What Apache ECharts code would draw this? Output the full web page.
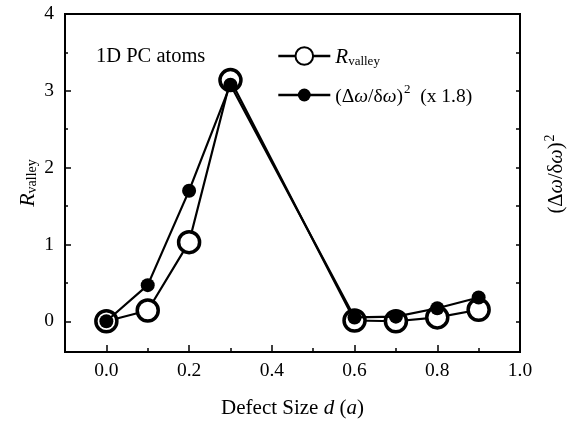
<!DOCTYPE html>
<html>
<head>
<meta charset="utf-8">
<script src="https://cdn.jsdelivr.net/npm/echarts@6/dist/echarts.min.js"></script>
<style>html,body{margin:0;padding:0;background:#fff;}#c{width:580px;height:422px;}</style>
</head>
<body>
<div id="c"></div>
<script>
var defectSize = [0, 0.1, 0.2, 0.3, 0.6, 0.7, 0.8, 0.9];
var rValley = [0, 0.14, 1.03, 3.14, 0.01, 0.0, 0.05, 0.15];
var dwRatioSq = [0, 0.47, 1.70, 3.08, 0.05, 0.06, 0.17, 0.31];
var xMajorTicks = [0, 0.2, 0.4, 0.6, 0.8, 1.0];
var xMinorTicks = [-0.1, 0.1, 0.3, 0.5, 0.7, 0.9];
var yMajorTicks = [0, 1, 2, 3, 4];
var yMinorTicks = [0.5, 1.5, 2.5, 3.5];
var yRightTicks = [0, 0.5, 1, 1.5, 2, 2.5, 3, 3.5];

var FONT = "'Liberation Serif', 'Times New Roman', serif";
function pairs(xs, ys){ return xs.map(function(x,i){ return [x, ys[i]]; }); }

var chart = echarts.init(document.getElementById('c'));
var axisLine = {show: true, onZero: false, lineStyle: {color: '#000', width: 2}};
var noLine = {show: false, onZero: false};
var baseX = {type: 'value', min: -0.1, max: 1.0, splitLine: {show: false}, position: 'bottom', nameMoveOverlap: false};
var baseY = {type: 'value', min: -0.4, max: 4, splitLine: {show: false}, nameMoveOverlap: false};

chart.setOption({
  animation: false,
  backgroundColor: '#fff',
  grid: {left: 65, right: 60, top: 14, bottom: 70, outerBoundsMode: 'none', containLabel: false,
         show: true, borderColor: '#000', borderWidth: 2, backgroundColor: 'transparent'},
  title: {text: '1D PC atoms', left: 91, top: 41, textStyle: {fontFamily: FONT, fontSize: 20.5, fontWeight: 'normal', color: '#000'}},
  xAxis: [
    Object.assign({}, baseX, {
      axisLine: axisLine,
      axisTick: {show: true, inside: true, length: 7, lineStyle: {color: '#000', width: 1.5}, customValues: xMajorTicks},
      axisLabel: {show: true, customValues: xMajorTicks, margin: 9, fontFamily: FONT, fontSize: 19.5, color: '#000',
        formatter: function(v){ return v.toFixed(1); }},
      name: '{n|Defect Size }{i|d}{n| (}{i|a}{n|)}', nameLocation: 'middle', nameGap: 46,
      nameTextStyle: {fontFamily: FONT, fontSize: 21, color: '#000',
        rich: {n: {fontFamily: FONT, fontSize: 21, color: '#000'}, i: {fontFamily: FONT, fontSize: 21, fontStyle: 'italic', color: '#000'}}}
    }),
    Object.assign({}, baseX, {
      axisLine: noLine,
      axisTick: {show: true, inside: true, length: 4, lineStyle: {color: '#000', width: 1.5}, customValues: xMinorTicks},
      axisLabel: {show: false}
    })
  ],
  yAxis: [
    Object.assign({}, baseY, {
      position: 'left',
      axisLine: axisLine,
      axisTick: {show: true, inside: true, length: 6, lineStyle: {color: '#000', width: 1.5}, customValues: yMajorTicks},
      axisLabel: {show: true, customValues: yMajorTicks, margin: 11, fontFamily: FONT, fontSize: 19.5, color: '#000'},
      name: '{i|R}{s|valley}', nameLocation: 'middle', nameGap: 26, nameRotate: 90,
      nameTextStyle: {fontFamily: FONT, fontSize: 18, color: '#000',
        rich: {i: {fontFamily: FONT, fontSize: 22, fontStyle: 'italic', color: '#000', lineHeight: 24, verticalAlign: 'bottom'},
               s: {fontFamily: FONT, fontSize: 14, color: '#000', lineHeight: 24, verticalAlign: 'bottom', padding: [7, 0, 0, 0]}}}
    }),
    Object.assign({}, baseY, {
      position: 'left',
      axisLine: noLine,
      axisTick: {show: true, inside: true, length: 3, lineStyle: {color: '#000', width: 1.5}, customValues: yMinorTicks},
      axisLabel: {show: false}
    }),
    Object.assign({}, baseY, {
      position: 'right',
      axisLine: axisLine,
      axisTick: {show: true, inside: true, length: 4, lineStyle: {color: '#000', width: 1.5}, customValues: yRightTicks},
      axisLabel: {show: false},
      name: '{n|(Δ}{i|ω}{n|/δ}{i|ω}{n|)}{p|2}', nameLocation: 'middle', nameGap: 23, nameRotate: 90,
      nameTextStyle: {fontFamily: FONT, fontSize: 20.5, color: '#000', padding: [0, 0, 0, 18],
        rich: {n: {fontFamily: FONT, fontSize: 20.5, color: '#000', lineHeight: 24, verticalAlign: 'bottom'},
               i: {fontFamily: FONT, fontSize: 20.5, fontStyle: 'italic', color: '#000', lineHeight: 24, verticalAlign: 'bottom'},
               p: {fontFamily: FONT, fontSize: 14, color: '#000', lineHeight: 24, verticalAlign: 'top', padding: [0, 0, 9, 1]}}}
    })
  ],
  legend: [
    {
      data: ['Rvalley'], left: 272, top: 41, orient: 'vertical', itemWidth: 52, itemHeight: 22, itemGap: 10,
      lineStyle: {width: 2.6},
      formatter: function(){ return '{i|R}{s|valley}'; },
      textStyle: {fontFamily: FONT, fontSize: 19.5, color: '#000',
        rich: {i: {fontFamily: FONT, fontSize: 21, fontStyle: 'italic', color: '#000', lineHeight: 24, verticalAlign: 'bottom'},
               s: {fontFamily: FONT, fontSize: 13, color: '#000', lineHeight: 24, verticalAlign: 'bottom', padding: [9, 0, 0, 0]}}}
    },
    {
      data: ['dw'], left: 272, top: 78, orient: 'vertical', itemWidth: 52, itemHeight: 16, itemGap: 10,
      lineStyle: {width: 2.6},
      formatter: function(){ return '{n|(Δ}{i|ω}{n|/δ}{i|ω}{n|)}{p|2}{n|  (x 1.8)}'; },
      textStyle: {fontFamily: FONT, fontSize: 19.5, color: '#000',
        rich: {n: {fontFamily: FONT, fontSize: 19.5, color: '#000', lineHeight: 24, verticalAlign: 'bottom'},
               i: {fontFamily: FONT, fontSize: 19.5, fontStyle: 'italic', color: '#000', lineHeight: 24, verticalAlign: 'bottom'},
               p: {fontFamily: FONT, fontSize: 13, color: '#000', lineHeight: 24, verticalAlign: 'top', padding: [0, 0, 9, 1]}}}
    }
  ],
  series: [
    {
      name: 'Rvalley', type: 'line', xAxisIndex: 0, yAxisIndex: 0,
      data: pairs(defectSize, rValley),
      symbol: 'circle', symbolSize: 21, showAllSymbol: true,
      lineStyle: {color: '#000', width: 2.2},
      itemStyle: {color: '#fff', borderColor: '#000', borderWidth: 3.5},
      z: 2
    },
    {
      name: 'dw', type: 'line', xAxisIndex: 0, yAxisIndex: 0,
      data: pairs(defectSize, dwRatioSq),
      symbol: 'circle', symbolSize: 14, showAllSymbol: true,
      lineStyle: {color: '#000', width: 2.2},
      itemStyle: {color: '#000', borderColor: '#000', borderWidth: 0},
      z: 3
    }
  ]
});
</script>
</body>
</html>
